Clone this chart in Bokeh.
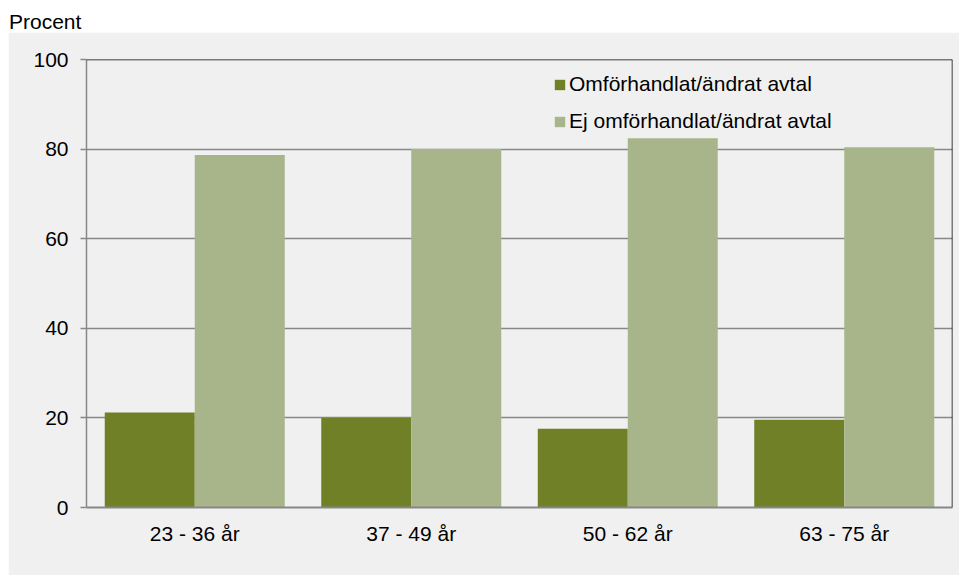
from bokeh.plotting import figure
from bokeh.models import (FactorRange, Range1d, ColumnDataSource, Span, Legend, LegendItem,
                          FixedTicker, Div)
from bokeh.transform import dodge
from bokeh.layouts import column
from bokeh.embed import file_html
from bokeh.resources import INLINE

categories = ["23 - 36 år", "37 - 49 år", "50 - 62 år", "63 - 75 år"]
omforhandlat = [21.2, 20.0, 17.6, 19.6]
ej_omforhandlat = [78.7, 80.0, 82.4, 80.4]
series_names = ["Omförhandlat/ändrat avtal", "Ej omförhandlat/ändrat avtal"]
y_ticks = [0, 20, 40, 60, 80, 100]

FONT = "Liberation Sans"
FS = "21px"
BG = "#f0f0f0"
DARK = "#6f8027"
LIGHT = "#a8b58a"
GRID = "#878787"

src = ColumnDataSource(dict(cat=categories, a=omforhandlat, b=ej_omforhandlat))

p = figure(x_range=FactorRange(*categories, range_padding=0), y_range=Range1d(0, 100),
           width=951, height=543, output_backend="svg", toolbar_location=None,
           min_border_left=78, min_border_right=7, min_border_top=27, min_border_bottom=68)
p.background_fill_color = BG
p.border_fill_color = BG
p.outline_line_color = None

bw = 0.4157
r1 = p.vbar(x=dodge("cat", -bw / 2, range=p.x_range), top="a", width=bw, source=src,
            fill_color=DARK, line_color=None)
r2 = p.vbar(x=dodge("cat", bw / 2, range=p.x_range), top="b", width=bw, source=src,
            fill_color=LIGHT, line_color=None)

# grid
p.xgrid.grid_line_color = None
p.ygrid.ticker = FixedTicker(ticks=[20, 40, 60, 80])
p.ygrid.grid_line_color = GRID
p.ygrid.grid_line_width = 1.5

# frame top/right in black
p.add_layout(Span(location=100, dimension="width", line_color="black", line_width=1.5))
p.add_layout(Span(location=4, dimension="height", line_color="black", line_width=1.5))

# axes
p.yaxis.ticker = FixedTicker(ticks=y_ticks)
p.yaxis.axis_line_color = GRID
p.yaxis.axis_line_width = 1.5
p.yaxis.major_tick_line_color = GRID
p.yaxis.major_tick_line_width = 1.5
p.yaxis.major_tick_out = 6
p.yaxis.major_tick_in = 0
p.yaxis.minor_tick_line_color = None
p.yaxis.major_label_standoff = 12
p.yaxis.major_label_text_font = FONT
p.yaxis.major_label_text_font_size = FS
p.yaxis.major_label_text_color = "black"

p.xaxis.axis_line_color = GRID
p.xaxis.axis_line_width = 2
p.xaxis.major_tick_line_color = None
p.xaxis.minor_tick_line_color = None
p.xaxis.major_label_standoff = 8
p.xaxis.major_label_text_font = FONT
p.xaxis.major_label_text_font_size = FS
p.xaxis.major_label_text_color = "black"

legend = Legend(items=[LegendItem(label=series_names[0], renderers=[r1]),
                       LegendItem(label=series_names[1], renderers=[r2])],
                location=(467, 374), orientation="vertical")
legend.background_fill_alpha = 0
legend.border_line_color = None
legend.padding = 0
legend.margin = 0
legend.spacing = 13
legend.label_height = 20
legend.glyph_height = 13
legend.glyph_width = 13
legend.label_standoff = 3
legend.label_text_font = FONT
legend.label_text_font_size = FS
legend.label_text_color = "black"
p.add_layout(legend, "center")

title = Div(text="Procent", width=951, height=24,
            styles={"font-family": FONT, "font-size": FS, "color": "black",
                    "line-height": "28px", "margin": "0", "padding-left": "1px"})

layout = column(title, p, spacing=0, margin=(8, 0, 0, 8))

open("out.html", "w").write(file_html(layout, INLINE))
